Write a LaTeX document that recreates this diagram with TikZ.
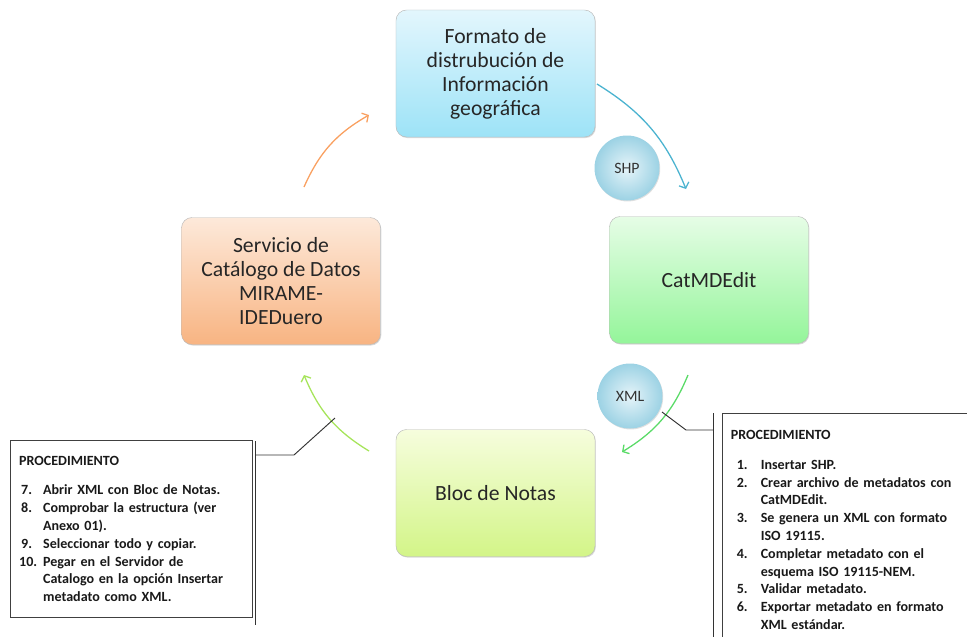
\documentclass[tikz,border=0pt]{standalone}
\usepackage{fontspec}
\setmainfont{Carlito}
\usetikzlibrary{arrows.meta,shadows,positioning}

\definecolor{azulA}{HTML}{E3F6FD}
\definecolor{azulB}{HTML}{9DE3F7}
\definecolor{verdeA}{HTML}{E6FDE6}
\definecolor{verdeB}{HTML}{94F59A}
\definecolor{naranjaA}{HTML}{FDE9DA}
\definecolor{naranjaB}{HTML}{F8B482}
\definecolor{limaA}{HTML}{F6FDDD}
\definecolor{limaB}{HTML}{D3F588}
\definecolor{bolaA}{HTML}{E6F4F9}
\definecolor{bolaB}{HTML}{9CD2E4}
\definecolor{flechaAzul}{HTML}{4BB3D0}
\definecolor{flechaVerde}{HTML}{5ADB68}
\definecolor{flechaLima}{HTML}{A6E45A}
\definecolor{flechaNaranja}{HTML}{F9A060}

\tikzset{
  etapa/.style={rounded corners=9pt, draw=gray!55, minimum width=5.97cm, minimum height=3.81cm,
    align=center, text=black!85, font=\fontsize{18.5}{20.5}\selectfont,
    drop shadow={opacity=0.3, shadow xshift=0.7pt, shadow yshift=-0.9pt}},
  bola/.style={circle, minimum size=1.95cm, inner color=bolaA, outer color=bolaB,
    text=black!80, font=\fontsize{13.5}{15}\selectfont,
    drop shadow={opacity=0.25, shadow xshift=0.6pt, shadow yshift=-0.8pt}},
  flecha/.style={line width=1.1pt, -{Straight Barb[length=4pt,width=9pt]}},
  nota/.style={draw=black!75, line width=0.8pt, anchor=north west, align=left,
    font=\bfseries\fontsize{12}{15.2}\selectfont, text=black!90},
  guia/.style={draw=black!80, line width=0.8pt}
}
\newcommand{\paso}[3]{\par\hangindent=#1\hangafter=1\makebox[#1][l]{#2}#3\par}

\begin{document}
\begin{tikzpicture}[x=0.03cm,y=-0.03cm]
\useasboundingbox (0,0) rectangle (967,637);

% etapas del ciclo
\node[etapa, top color=azulA, bottom color=azulB] (formato) at (495.5,73.5)
  {Formato de\\distrubución de\\Información\\geográfica};
\node[etapa, top color=verdeA, bottom color=verdeB] (catmd) at (709,280) {CatMDEdit};
\node[etapa, top color=limaA, bottom color=limaB] (bloc) at (495.5,493) {Bloc de Notas};
\node[etapa, top color=naranjaA, bottom color=naranjaB] (servicio) at (281,281)
  {Servicio de\\Catálogo de Datos\\MIRAME-\\IDEDuero};

% formatos de intercambio
\node[bola] (shp) at (627,168) {SHP};
\node[bola] (xml) at (630,396) {XML};

% extremos de las flechas
\coordinate (f1) at (597,84);
\coordinate (f2) at (686,189);
\coordinate (c1) at (688,375);
\coordinate (c2) at (622,452);
\coordinate (b1) at (369,451);
\coordinate (b2) at (304,375);
\coordinate (s1) at (304,187);
\coordinate (s2) at (369,115);

\draw[flecha, flechaAzul] (f1) to[bend left=18] (f2);
\draw[flecha, flechaVerde] (c1) to[bend left=18] (c2);
\draw[flecha, flechaLima] (b1) to[bend left=18] (b2);
\draw[flecha, flechaNaranja] (s1) to[bend left=18] (s2);

% notas de procedimiento
\node[nota, minimum width=7.26cm, minimum height=5.31cm, text width=6.75cm,
  inner sep=0.26cm] (notaIzq) at (10,440)
  {PROCEDIMIENTO\par\vspace{10pt}
   \paso{0.72cm}{\hspace*{0.06cm}7.}{Abrir XML con Bloc de Notas.}
   \paso{0.72cm}{\hspace*{0.06cm}8.}{Comprobar la estructura (ver\newline Anexo 01).}
   \paso{0.72cm}{\hspace*{0.06cm}9.}{Seleccionar todo y copiar.}
   \paso{0.72cm}{10.}{Pegar en el Servidor de\newline Catalogo en la opción Insertar\newline metadato como XML.}};
\node[nota, minimum width=7.9cm, minimum height=7cm, text width=7.4cm,
  inner sep=0.24cm] (notaDer) at (722,413)
  {PROCEDIMIENTO\par\vspace{10pt}
   \paso{0.9cm}{\hspace*{0.18cm}1.}{Insertar SHP.}
   \paso{0.9cm}{\hspace*{0.18cm}2.}{Crear archivo de metadatos con\newline CatMDEdit.}
   \paso{0.9cm}{\hspace*{0.18cm}3.}{Se genera un XML con formato\newline ISO 19115.}
   \paso{0.9cm}{\hspace*{0.18cm}4.}{Completar metadato con el\newline esquema ISO 19115-NEM.}
   \paso{0.9cm}{\hspace*{0.18cm}5.}{Validar metadato.}
   \paso{0.9cm}{\hspace*{0.18cm}6.}{Exportar metadato en formato\newline XML estándar.}};

% barras y lineas de llamada
\coordinate (barIzqA) at (255,441);
\coordinate (barIzqB) at (255,625);
\coordinate (codoIzq) at (294,455);
\coordinate (tocaIzq) at (335,418);
\draw[guia] (barIzqA) -- (barIzqB);
\draw[guia] (tocaIzq) -- (codoIzq) -- (barIzqA |- codoIzq);

\coordinate (barDerA) at (713,413);
\coordinate (barDerB) at (713,645);
\coordinate (codoDer) at (686,430);
\coordinate (tocaDer) at (662,412);
\draw[guia] (barDerA) -- (barDerB);
\draw[guia] (tocaDer) -- (codoDer) -- (barDerA |- codoDer);
\end{tikzpicture}
\end{document}
